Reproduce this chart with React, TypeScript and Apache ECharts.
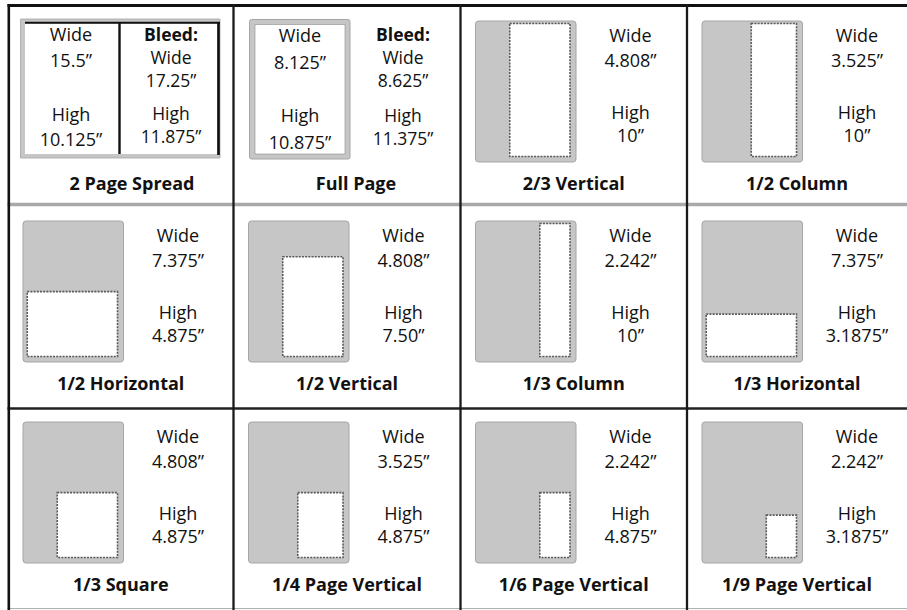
import React, { useEffect, useRef } from "react";
import * as echarts from "echarts";

// ---- data ----
const titles = [
  "2 Page Spread", "Full Page", "2/3 Vertical", "1/2 Column",
  "1/2 Horizontal", "1/2 Vertical", "1/3 Column", "1/3 Horizontal",
  "1/3 Square", "1/4 Page Vertical", "1/6 Page Vertical", "1/9 Page Vertical",
];
const wideValues = [
  "15.5”", "8.125”", "4.808”", "3.525”",
  "7.375”", "4.808”", "2.242”", "7.375”",
  "4.808”", "3.525”", "2.242”", "2.242”",
];
const highValues = [
  "10.125”", "10.875”", "10”", "10”",
  "4.875”", "7.50”", "10”", "3.1875”",
  "4.875”", "4.875”", "4.875”", "3.1875”",
];
const bleedWide = ["17.25”", "8.625”"];
const bleedHigh = ["11.875”", "11.375”"];
const wideLabel = "Wide";
const highLabel = "High";
const bleedLabel = "Bleed:";

// ---- layout ----
const W = 907;
const H = 610;
const colX = [8, 233.5, 460.5, 687, 907];
const rowY = [5, 205, 406];
const FONT = "'Open Sans', Lato, sans-serif";
const INK = "#111";
const PAGE_GRAY = "#c6c6c6";
const EDGE_GRAY = "#a6a6a6";
const FS = 18;
const FS_BLEED = 17.5;

function txt(x: number, y: number, text: string, bold = false, size = FS) {
  return {
    type: "text",
    x,
    y,
    silent: true,
    style: {
      text,
      fill: INK,
      fontFamily: FONT,
      fontSize: size,
      lineHeight: size,
      fontWeight: bold ? "bold" : "normal",
      align: "center",
      verticalAlign: "middle",
    },
  };
}
function rect(x: number, y: number, w: number, h: number, style: any, r = 0) {
  return { type: "rect", silent: true, shape: { x, y, width: w, height: h, r }, style };
}
function line(x1: number, y1: number, x2: number, y2: number, stroke: string, lineWidth: number) {
  return { type: "line", silent: true, shape: { x1, y1, x2, y2 }, style: { stroke, lineWidth } };
}

function buildGraphics() {
  const els: any[] = [];
  els.push(rect(0, 0, W, H, { fill: "#fff" }));

  // Special cell 0: 2 Page Spread
  {
    const L = colX[0];
    els.push(rect(L + 12.5, 19, 199.5, 139, { fill: PAGE_GRAY, stroke: EDGE_GRAY, lineWidth: 0.8 }));
    els.push(rect(L + 17, 23.5, 192, 130.5, { fill: "#fff" }));
    els.push(line(L + 17, 22.8, L + 212, 22.8, INK, 2));
    els.push(line(L + 210.5, 22, L + 210.5, 155, INK, 2.6));
    els.push(line(L + 111.5, 22, L + 111.5, 154, INK, 2.4));
    const lx = L + 63, rx = L + 163;
    els.push(txt(lx, 34, wideLabel));
    els.push(txt(lx, 60, wideValues[0]));
    els.push(txt(lx, 114, highLabel));
    els.push(txt(lx, 139, highValues[0]));
    els.push(txt(rx, 34, bleedLabel, true, FS_BLEED));
    els.push(txt(rx, 57, wideLabel, false, FS_BLEED));
    els.push(txt(rx, 80, bleedWide[0], false, FS_BLEED));
    els.push(txt(rx, 113, highLabel, false, FS_BLEED));
    els.push(txt(rx, 136, bleedHigh[0], false, FS_BLEED));
    els.push(txt(L + 124, 183, titles[0], true));
  }
  // Special cell 1: Full Page
  {
    const L = colX[1];
    els.push(rect(L + 16, 19.5, 100.5, 139.5, { fill: PAGE_GRAY, stroke: EDGE_GRAY, lineWidth: 1 }, 2));
    els.push(rect(L + 21.5, 24.5, 90, 129.5, { fill: "#fff", stroke: "#8a8a8a", lineWidth: 0.6 }));
    const lx = L + 66.5, rx = L + 169.5;
    els.push(txt(lx, 35, wideLabel));
    els.push(txt(lx, 62, wideValues[1]));
    els.push(txt(lx, 115, highLabel));
    els.push(txt(lx, 142, highValues[1]));
    els.push(txt(rx, 34, bleedLabel, true, FS_BLEED));
    els.push(txt(rx, 57, wideLabel, false, FS_BLEED));
    els.push(txt(rx, 80, bleedWide[1], false, FS_BLEED));
    els.push(txt(rx, 115, highLabel, false, FS_BLEED));
    els.push(txt(rx, 138, bleedHigh[1], false, FS_BLEED));
    els.push(txt(L + 122.5, 183, titles[1], true));
  }

  // Standard cells: ad drawn to scale inside a page
  const pxPerInW = 11.7;
  const pxPerInH = 13.3;
  for (let i = 2; i < titles.length; i++) {
    const r = Math.floor(i / 4);
    const c = i % 4;
    const L = colX[c];
    const T = rowY[r];
    const pageX = L + 15, pageY = T + 16, pageW = 100.5, pageH = 141;
    els.push(rect(pageX, pageY, pageW, pageH, { fill: PAGE_GRAY, stroke: EDGE_GRAY, lineWidth: 1 }, 3));
    const wIn = parseFloat(wideValues[i]);
    const hIn = parseFloat(highValues[i]);
    const aw = 4 + wIn * pxPerInW;
    const ah = hIn * pxPerInH;
    const right = L + 109.5;
    const bottom = T + 151.5;
    els.push(rect(right - aw, bottom - ah, aw, ah, {
      fill: "#fff", stroke: "#5a5a5a", lineWidth: 1.6, lineDash: [2, 1.2],
    }));
    const tx = L + 170;
    els.push(txt(tx, T + 30, wideLabel));
    els.push(txt(tx, T + 55, wideValues[i]));
    els.push(txt(tx, T + 107, highLabel));
    els.push(txt(tx, T + 130, highValues[i]));
    els.push(txt((L + colX[c + 1]) / 2, T + 178, titles[i], true));
  }

  // Grid lines
  els.push(line(7.5, 204.5, W, 204.5, "#a9a9a9", 3.5));
  els.push(line(7.5, 408.5, W, 408.5, "#222", 2.5));
  els.push(line(7.5, 608.5, W, 608.5, "#b0b0b0", 1.2));
  els.push(line(7.5, 5.5, W, 5.5, INK, 3));
  els.push(line(8.8, 4, 8.8, H, INK, 2.6));
  for (let c = 1; c < 4; c++) {
    els.push(line(colX[c], 4, colX[c], H, "#1a1a1a", 2.3));
  }
  return els;
}

export default function App() {
  const ref = useRef<HTMLDivElement>(null);
  useEffect(() => {
    if (!ref.current) return;
    const chart = echarts.init(ref.current, undefined, { renderer: "svg", width: W, height: H });
    chart.setOption({
      animation: false,
      backgroundColor: "#fff",
      graphic: { elements: buildGraphics() },
    });
    return () => chart.dispose();
  }, []);
  return (
    <div
      ref={ref}
      style={{ position: "fixed", left: 0, top: 0, width: W, height: H, background: "#fff" }}
    />
  );
}
